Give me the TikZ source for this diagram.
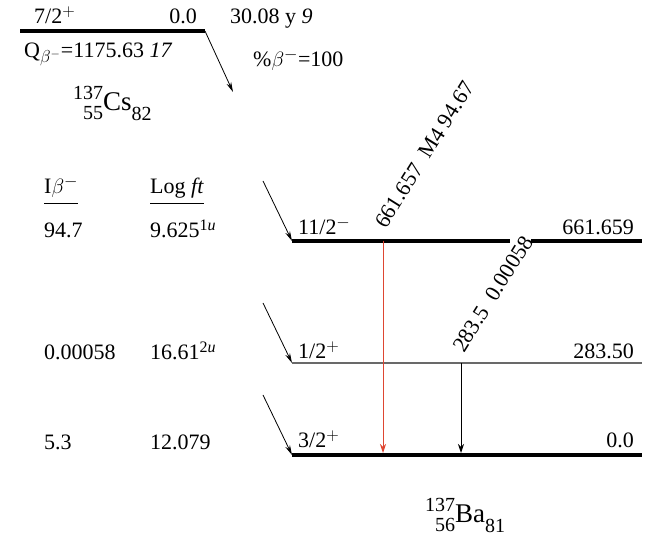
\documentclass[tikz,border=0pt]{standalone}
\usepackage{fontspec}
\setmainfont{Liberation Serif}
\usetikzlibrary{arrows.meta,positioning,calc}
\definecolor{gammared}{RGB}{222,70,50}
\definecolor{levelgray}{RGB}{105,105,105}
\DeclareMathSizes{22}{22}{16}{12}
\newcommand{\nucsc}{\fontsize{20}{20}\selectfont}
\newcommand{\nucl}[4]{{\nucsc\raisebox{11pt}{#1}\llap{\raisebox{-9pt}{#2}}}{\fontsize{27}{30}\selectfont #3}{\nucsc\raisebox{-10pt}{#4}}}

\begin{document}
\begin{tikzpicture}[
    x=1pt, y=-1pt,
    font=\fontsize{22}{26}\selectfont,
    txt/.style={inner sep=0pt, anchor=base west},
    txtr/.style={inner sep=0pt, anchor=base east},
    thicklevel/.style={line width=4.5pt},
    midlevel/.style={line width=3.2pt},
    thinlevel/.style={line width=1.1pt, draw=levelgray},
    feed/.style={-{Stealth[length=10pt, width=5pt]}, line width=0.8pt},
    gamma/.style={-{Stealth[length=9pt, width=6pt]}, line width=0.9pt},
    gtext/.style={inner sep=0pt, anchor=base west, rotate=58}
  ]
    \useasboundingbox (0,0) rectangle (649,537);

    % parent level
    \coordinate (cs0l) at (20,31);
    \coordinate (cs0r) at (205,31);
    \draw[thicklevel] (cs0l) -- (cs0r);
    \node[txt] (csspin) at (34,24) {7/2$^{+}$};
    \node[txtr] (csen) at (197,24) {0.0};
    \node[txt] (cshalf) at (230,24) {30.08 y \textit{9}};
    \node[txt] (csq) at (24,58) {Q$_{\beta^-}$=1175.63 \textit{17}};
    \node[txt] (csbr) at (253,67) {\%$\beta^-$=100};
    \coordinate (csdecay) at (233,92);
    \draw[feed] (cs0r) -- (csdecay);
    \node[txt] (csname) at (73,111) {\nucl{137}{55}{Cs}{82}};

    % table heads
    \node[txt] (hdrib) at (44,194) {I$\beta^-$};
    \node[txt] (hdrft) at (150,194) {Log \textit{ft}};
    \draw[line width=0.7pt] ($(hdrib.base west)+(0,9)$) -- ($(hdrib.base east)+(0,9)$);
    \draw[line width=0.7pt] ($(hdrft.base west)+(0,9)$) -- ($(hdrft.base east)+(0,9)$);

    \node[txt] (ib1) at (44,238) {94.7};
    \node[txt] (ft1) at (150,238) {9.625\textsuperscript{1\textit{u}}};
    \node[txt] (ib2) at (44,360) {0.00058};
    \node[txt] (ft2) at (150,360) {16.61\textsuperscript{2\textit{u}}};
    \node[txt] (ib3) at (44,450) {5.3};
    \node[txt] (ft3) at (150,450) {12.079};

    % daughter levels
    \coordinate (ba2l) at (292,241);
    \coordinate (ba2m) at (510,241);
    \coordinate (ba2n) at (531,241);
    \coordinate (ba2r) at (642,241);
    \draw[midlevel] (ba2l) -- (ba2m);
    \draw[midlevel] (ba2n) -- (ba2r);
    \node[txt] (ba2spin) at (298,235) {11/2$^{-}$};
    \node[txtr] (ba2en) at (634,235) {661.659};

    \coordinate (ba1l) at (292,363);
    \coordinate (ba1r) at (642,363);
    \draw[thinlevel] (ba1l) -- (ba1r);
    \node[txt] (ba1spin) at (298,359) {1/2$^{+}$};
    \node[txtr] (ba1en) at (634,359) {283.50};

    \coordinate (ba0l) at (292,455);
    \coordinate (ba0r) at (642,455);
    \draw[thicklevel] (ba0l) -- (ba0r);
    \node[txt] (ba0spin) at (298,448) {3/2$^{+}$};
    \node[txtr] (ba0en) at (634,448) {0.0};

    % feeding
    \coordinate (f2) at (263,181);
    \coordinate (f1) at (263,303);
    \coordinate (f0) at (263,395);
    \draw[feed] (f2) -- (ba2l);
    \draw[feed] (f1) -- (ba1l);
    \draw[feed] (f0) -- (ba0l);

    % gammas
    \coordinate (g1top) at (383,241);
    \coordinate (g1bot) at (383,453);
    \draw[gamma, draw=gammared, fill=gammared] (g1top) -- (g1bot);
    \node[gtext] (g1lbl) at (386,230) {661.657\ \ M4 94.67};
    \coordinate (g2top) at (461,363);
    \coordinate (g2bot) at (461,453);
    \draw[gamma] (g2top) -- (g2bot);
    \node[gtext] (g2lbl) at (464,354) {283.5\ \ 0.00058};

    \node[txt] (baname) at (425,523) {\nucl{137}{56}{Ba}{81}};
  \end{tikzpicture}
\end{document}
